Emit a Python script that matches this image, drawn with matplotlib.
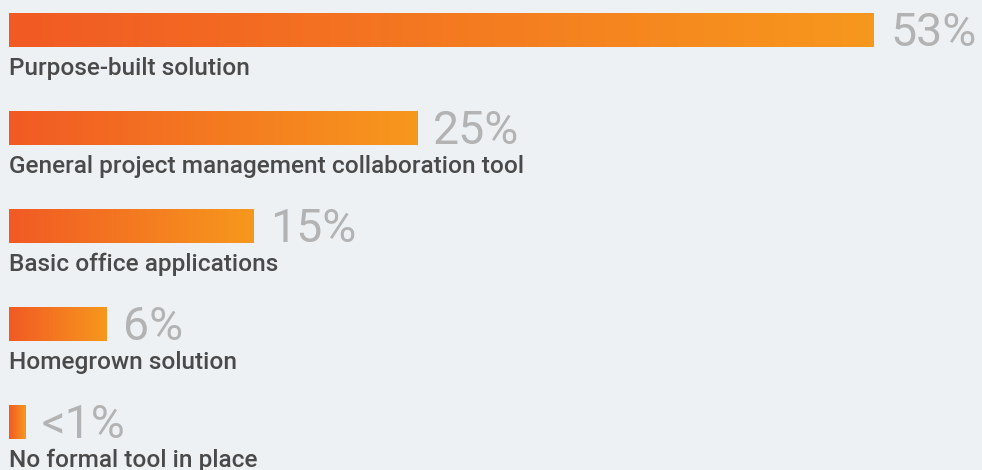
import numpy as np
import matplotlib
matplotlib.use("Agg")
import matplotlib.pyplot as plt
from matplotlib.colors import LinearSegmentedColormap

categories = [
    "Purpose-built solution",
    "General project management collaboration tool",
    "Basic office applications",
    "Homegrown solution",
    "No formal tool in place",
]
values = [53, 25, 15, 6, 1]
value_labels = ["53%", "25%", "15%", "6%", "<1%"]

BG = "#edf1f4"
TEXT = "#4a4a4a"
VALUE_GREY = "#b3b3b3"
grad = LinearSegmentedColormap.from_list("bar_grad", ["#f15a24", "#f7981d"])

W, H, DPI = 982, 470, 100
fig = plt.figure(figsize=(W / DPI, H / DPI), dpi=DPI, facecolor=BG)
ax = fig.add_axes([0, 0, 1, 1])
ax.set_facecolor(BG)

# x in percent units, y in pixel rows from the top
px_per_pct = 865 / 53
left_px = 9
ax.set_xlim(-left_px / px_per_pct, (W - left_px) / px_per_pct)
ax.set_ylim(H, 0)
ax.axis("off")

bar_h = 34
row_top0 = 13
row_step = 98
gradient = np.linspace(0, 1, 256).reshape(1, -1)

for i, (cat, val, lab) in enumerate(zip(categories, values, value_labels)):
    top = row_top0 + i * row_step
    bottom = top + bar_h
    ax.imshow(gradient, cmap=grad, aspect="auto",
              extent=(0, val, bottom, top), interpolation="bicubic", zorder=2)
    ax.annotate(lab, xy=(val, bottom - 1.5), xytext=(16, 0), textcoords="offset pixels",
                ha="left", va="baseline", fontsize=33.5, color=VALUE_GREY,
                family=["Roboto", "DejaVu Sans"], fontweight="normal")
    ax.text(0, bottom + 28.5, cat, ha="left", va="baseline", fontsize=17.6,
            color=TEXT, family=["Roboto", "DejaVu Sans"], fontweight="medium")

fig.savefig("out.png", dpi=DPI, facecolor=BG)
